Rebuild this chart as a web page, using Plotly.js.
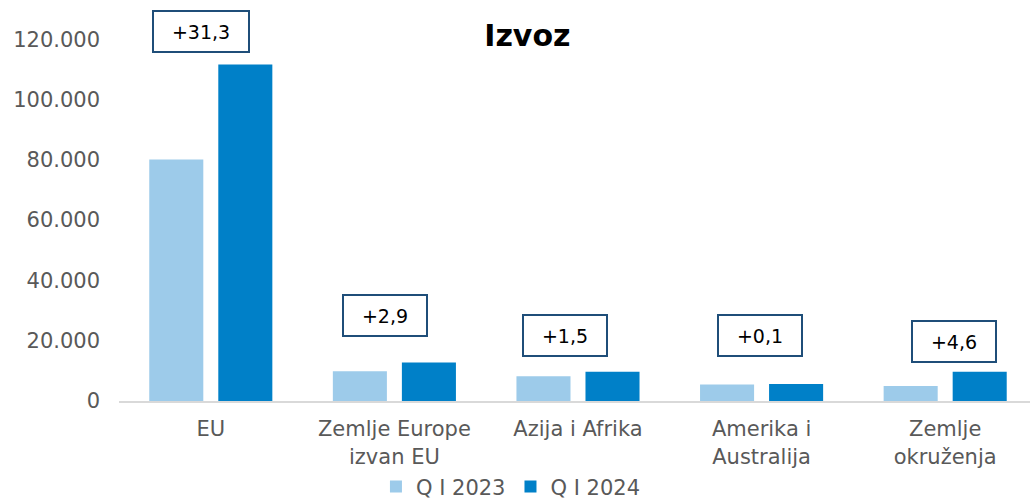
<!DOCTYPE html>
<html>
<head>
<meta charset="utf-8">
<script src="https://cdn.plot.ly/plotly-3.0.1.min.js"></script>
<style>html,body{margin:0;padding:0;background:#fff;}#chart{width:1030px;height:501px;}</style>
</head>
<body>
<div id="chart"></div>
<script>
// ---- data ----
const categories = ["EU", "Zemlje Europe<br>izvan EU", "Azija i Afrika", "Amerika i<br>Australija", "Zemlje<br>okruženja"];
const seriesNames = ["Q I 2023", "Q I 2024"];
const q1_2023 = [80100, 9900, 8200, 5500, 5000];
const q1_2024 = [111600, 12800, 9700, 5600, 9700];
const changeLabels = ["+31,3", "+2,9", "+1,5", "+0,1", "+4,6"];
const yTicks = [0, 20000, 40000, 60000, 80000, 100000, 120000];

// ---- layout of the change boxes (placement only) ----
const boxY = [122700, 28500, 21600, 21600, 19600];
const boxShiftX = [-10, -9, -13, -2, 9];
const boxW = [94, 82, 82, 82, 82];

const FONT = "DejaVu Sans, Verdana, sans-serif";
const GREY = "#595959";

const traces = [
  {type: "bar", name: seriesNames[0], x: categories, y: q1_2023,
   marker: {color: "#9DCBEA"}, hoverinfo: "none"},
  {type: "bar", name: seriesNames[1], x: categories, y: q1_2024,
   marker: {color: "#0080C8"}, hoverinfo: "none"}
];

const annotations = categories.map((c, i) => ({
  x: c, y: boxY[i], xref: "x", yref: "y",
  text: changeLabels[i], showarrow: false,
  xshift: boxShiftX[i],
  font: {family: FONT, size: 19, color: "#000"},
  bordercolor: "#1F4E79", borderwidth: 2, borderpad: 0,
  bgcolor: "#fff", width: boxW[i], height: 39,
  xanchor: "center", yanchor: "middle"
}));

const layout = {
  width: 1030, height: 501,
  margin: {l: 119, r: 0, t: 9, b: 100},
  paper_bgcolor: "#fff", plot_bgcolor: "#fff",
  separators: ",.",
  font: {family: FONT, size: 21, color: GREY},
  title: {text: "<b>Izvoz</b>", font: {family: FONT, size: 30, color: "#000"},
          x: 0.512, xref: "container", xanchor: "center",
          y: 0.929, yref: "container", yanchor: "middle"},
  barmode: "group", bargap: 0.248, bargroupgap: 0.217,
  xaxis: {type: "category", range: [-0.5, 4.462], showline: true, linecolor: "#D9D9D9",
          linewidth: 2, ticks: "", showgrid: false, zeroline: false,
          tickfont: {family: FONT, size: 21, color: GREY}, ticklabelstandoff: 8},
  yaxis: {range: [0, 130000], tickvals: yTicks, tickformat: ",.0f", showgrid: false,
          zeroline: false, showline: false, ticks: "",
          tickfont: {family: FONT, size: 21, color: GREY}, ticklabelstandoff: 18},
  showlegend: true,
  legend: {orientation: "h", xref: "container", yref: "container",
           x: 0.365, xanchor: "left", y: 0.028, yanchor: "middle",
           bgcolor: "rgba(0,0,0,0)", borderwidth: 0,
           font: {family: FONT, size: 21, color: GREY}, traceorder: "normal"},
  annotations: annotations
};

Plotly.newPlot("chart", traces, layout, {staticPlot: true, displayModeBar: false});
</script>
</body>
</html>
